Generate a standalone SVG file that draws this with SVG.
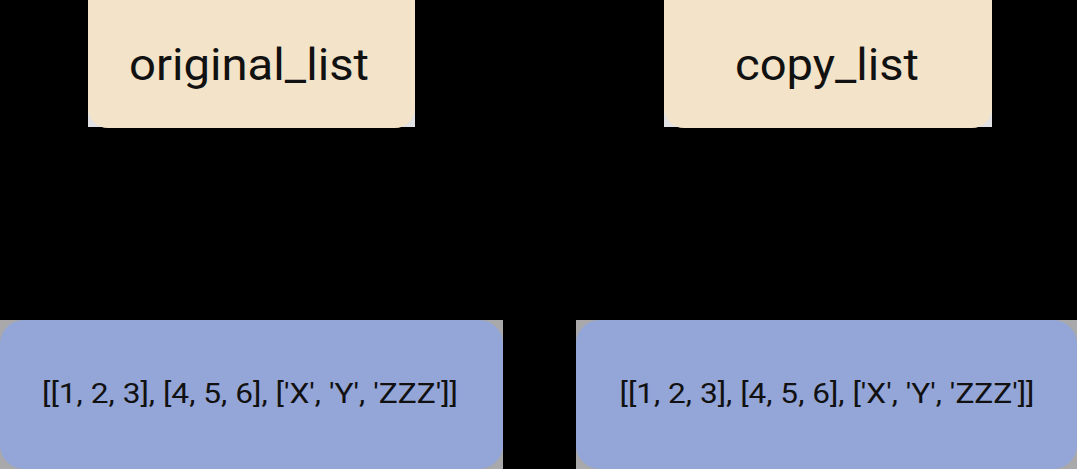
<svg xmlns="http://www.w3.org/2000/svg" width="1077" height="469" viewBox="0 0 1077 469">
  <style>
    .var rect.box { fill: #F3E3C8; }
    .var rect.back { fill: #E2E2E4; }
    .val rect.box { fill: #94A5D7; }
    .val rect.back { fill: #A9A9AB; }
    .lbl { font-family: Roboto, "Liberation Sans", sans-serif; fill: #111111; text-anchor: middle; }
    .var .lbl { font-size: 44px; }
    .val .lbl { font-size: 28px; }
  </style>
  <rect x="0" y="0" width="1077" height="469" fill="#000000"/>
  <g id="original_list" class="var">
    <rect class="back" x="88" y="-2" width="327" height="129"/>
    <rect class="box" x="88" y="-20" width="327" height="148" rx="20"/>
    <text class="lbl" x="249" y="80" textLength="240" lengthAdjust="spacingAndGlyphs">original_list</text>
  </g>
  <g id="copy_list" class="var">
    <rect class="back" x="664" y="-2" width="328" height="129"/>
    <rect class="box" x="664" y="-20" width="328" height="148" rx="20"/>
    <text class="lbl" x="827" y="80" textLength="184" lengthAdjust="spacingAndGlyphs">copy_list</text>
  </g>
  <g id="original_value" class="val">
    <rect class="back" x="0" y="320" width="503" height="149"/>
    <rect class="box" x="0" y="320" width="503" height="149" rx="24"/>
    <text class="lbl" x="250" y="403" textLength="416" lengthAdjust="spacingAndGlyphs">[[1, 2, 3], [4, 5, 6], ['X', 'Y', 'ZZZ']]</text>
  </g>
  <g id="copy_value" class="val">
    <rect class="back" x="576" y="320" width="501" height="149"/>
    <rect class="box" x="576" y="320" width="501" height="149" rx="24"/>
    <text class="lbl" x="827" y="403" textLength="415" lengthAdjust="spacingAndGlyphs">[[1, 2, 3], [4, 5, 6], ['X', 'Y', 'ZZZ']]</text>
  </g>
</svg>
